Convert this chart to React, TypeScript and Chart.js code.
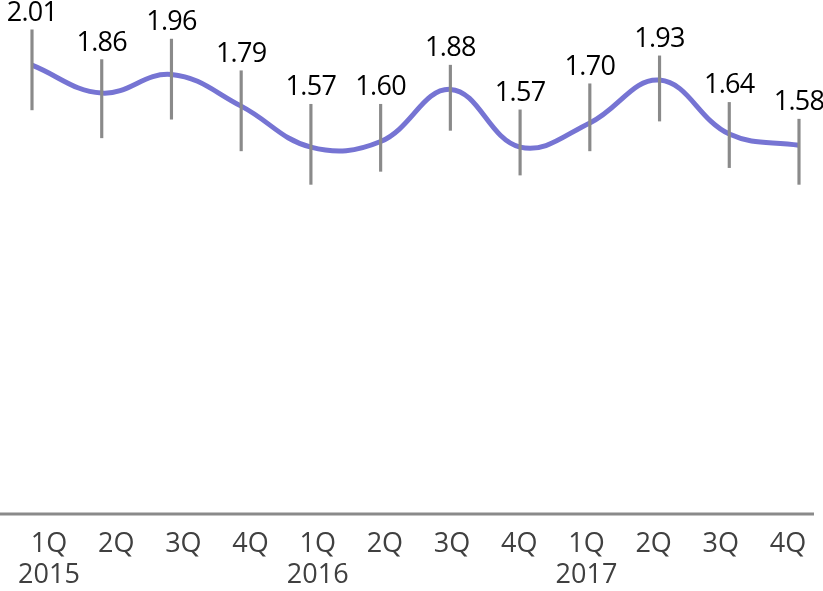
import { useEffect, useRef } from "react";
import { Chart, registerables } from "chart.js";

Chart.register(...registerables);

const quarters = ["1Q", "2Q", "3Q", "4Q", "1Q", "2Q", "3Q", "4Q", "1Q", "2Q", "3Q", "4Q"];
const years = ["2015", "", "", "", "2016", "", "", "", "2017", "", "", ""];
const values = [2.01, 1.86, 1.96, 1.79, 1.57, 1.6, 1.88, 1.57, 1.7, 1.93, 1.64, 1.58];
const errHigh = [2.2, 2.04, 2.15, 1.98, 1.8, 1.8, 2.01, 1.77, 1.91, 2.06, 1.81, 1.72];
const errLow = [1.77, 1.62, 1.72, 1.55, 1.37, 1.44, 1.66, 1.42, 1.55, 1.71, 1.46, 1.37];

const FONT = "'Open Sans', 'Noto Sans', sans-serif";

export default function App() {
  const ref = useRef<HTMLCanvasElement | null>(null);

  useEffect(() => {
    if (!ref.current) return;
    const tickLabels = quarters.map((q, i) => [q, years[i]]);

    const baseline = {
      id: "baseline",
      beforeDatasetsDraw(chart: any) {
        const { ctx, chartArea } = chart;
        ctx.save();
        ctx.strokeStyle = "#8a8a8a";
        ctx.lineWidth = 3;
        ctx.beginPath();
        ctx.moveTo(0, chartArea.bottom);
        ctx.lineTo(chartArea.right + 15, chartArea.bottom);
        ctx.stroke();
        ctx.restore();
      },
    };

    const valueLabels = {
      id: "valueLabels",
      afterDatasetsDraw(chart: any) {
        const { ctx } = chart;
        const xs = chart.scales.x;
        const ys = chart.scales.y;
        ctx.save();
        ctx.font = `27px ${FONT}`;
        (ctx as any).letterSpacing = "-0.7px";
        ctx.fillStyle = "#000";
        ctx.textAlign = "center";
        ctx.textBaseline = "alphabetic";
        values.forEach((v, i) => {
          const x = xs.getPixelForValue(i);
          const y = ys.getPixelForValue(errHigh[i]) - 9;
          ctx.fillText(v.toFixed(2), x, y);
        });
        ctx.restore();
      },
    };

    const chart = new Chart(ref.current, {
      type: "line",
      data: {
        labels: quarters,
        datasets: [
          {
            type: "line",
            data: values,
            borderColor: "#7674d3",
            borderWidth: 5,
            tension: 0.4,
            pointRadius: 0,
            fill: false,
            order: 1,
            clip: false as any,
          },
          {
            type: "bar",
            data: errLow.map((lo, i) => [lo, errHigh[i]]) as any,
            backgroundColor: "#8a8a8a",
            borderWidth: 0,
            barThickness: 2.5,
            order: 0,
            clip: false as any,
          } as any,
        ],
      },
      options: {
        animation: false,
        responsive: false,
        layout: { padding: { left: 32, right: 24, top: 0, bottom: 0 } },
        plugins: { legend: { display: false }, tooltip: { enabled: false } },
        scales: {
          x: {
            type: "category",
            display: false,
            offset: false,
          },
          xl: {
            type: "linear",
            position: "bottom",
            min: -0.253,
            max: 11.164,
            grid: { display: false, drawTicks: false },
            border: { display: false },
            afterBuildTicks: (scale: any) => {
              scale.ticks = quarters.map((_, i) => ({ value: i }));
            },
            afterFit: (scale: any) => {
              scale.height = 77;
            },
            ticks: {
              autoSkip: false,
              maxRotation: 0,
              padding: 14,
              color: "#404040",
              font: { family: FONT, size: 27, lineHeight: 1.18 },
              callback: (v: any) => tickLabels[Math.round(Number(v))] as any,
            },
          },
          y: {
            display: false,
            min: -0.4,
            max: 2.36,
          },
        },
      } as any,
      plugins: [baseline, valueLabels],
    });

    return () => chart.destroy();
  }, []);

  return (
    <div style={{ position: "absolute", left: 0, top: 0, width: 823, height: 591 }}>
      <canvas ref={ref} width={823} height={591} />
    </div>
  );
}
